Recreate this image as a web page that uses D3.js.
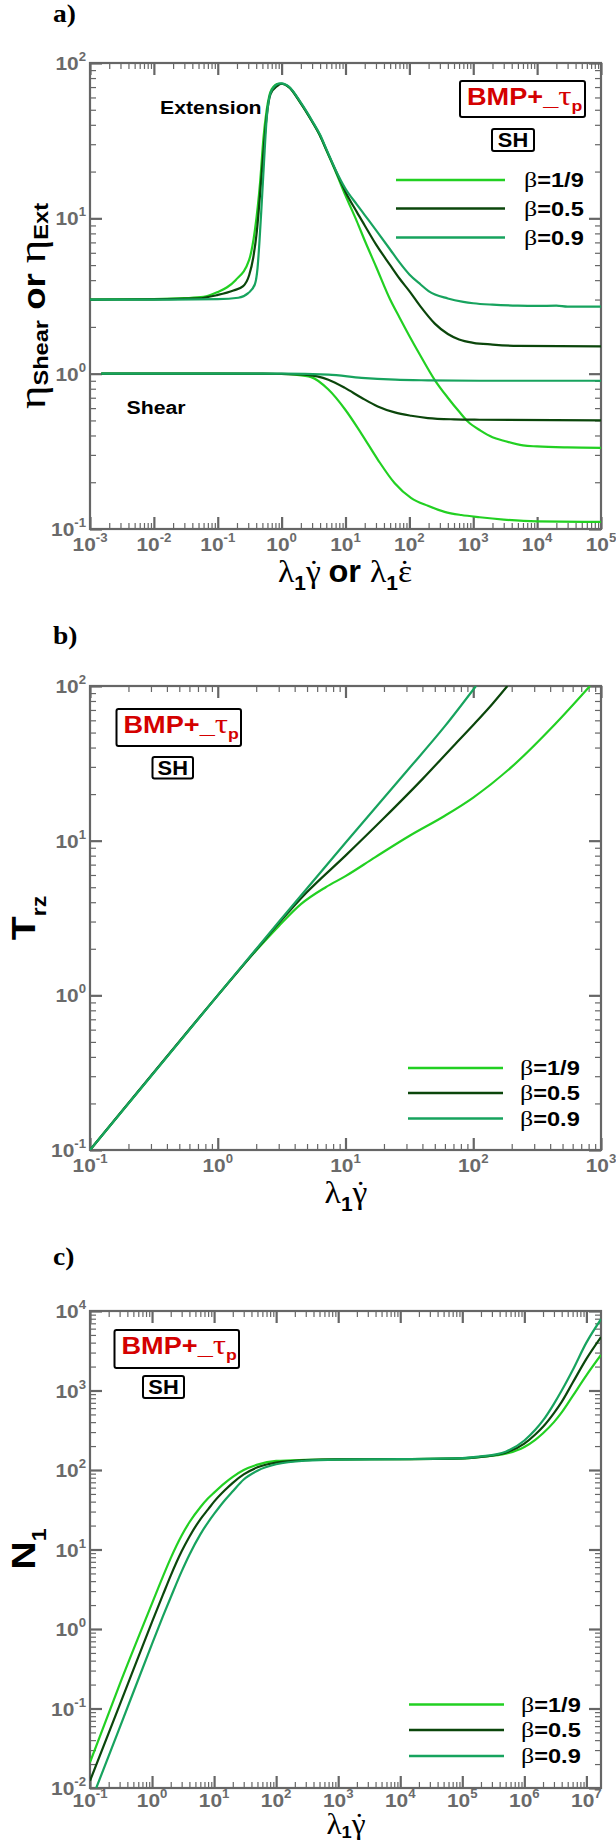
<!DOCTYPE html>
<html><head><meta charset="utf-8">
<script src="https://cdn.jsdelivr.net/npm/d3@7"></script>
<style>body{margin:0;background:#fff}svg{display:block}</style>
</head><body>
<svg id="chart" width="616" height="1842"></svg>
<script>
// ---------------- DATA ----------------
const betaLabels = ["1/9", "0.5", "0.9"];
const seriesColors = ["#22d022", "#0b460b", "#17a35e"];

// Panel a: extensional viscosity
const extB19 = [[0.001,3.0],[0.01,3.02],[0.03,3.06],[0.06,3.12],[0.1,3.35],[0.14,3.6],[0.19,4.0],[0.31,5.4],[0.38,8.3],[0.46,17],[0.52,33],[0.58,49],[0.7,68],[0.89,73.5],[1.0,73.5],[1.3,70],[2,55],[3,42],[4,34],[5,27.5],[7,20],[10,14],[15,9.6],[20,7.2],[30,4.9],[50,3.0],[70,2.3],[100,1.75],[150,1.3],[250,0.91],[400,0.7],[600,0.57],[830,0.49],[1300,0.43],[2000,0.39],[3000,0.37],[6000,0.345],[10000,0.34],[30000,0.335],[100000,0.333]];
const extB05 = [[0.001,3.0],[0.01,3.01],[0.05,3.05],[0.096,3.2],[0.176,3.43],[0.25,3.66],[0.31,4.3],[0.36,5.6],[0.41,8.3],[0.46,14.3],[0.52,27],[0.58,44.5],[0.67,63],[0.85,71],[1.0,73.5],[1.3,70],[2,55],[3,42],[4,34],[5,27.7],[7,20.3],[10,14.8],[15,11],[20,9.0],[30,6.8],[50,5.0],[70,4.1],[100,3.4],[150,2.7],[250,2.1],[400,1.8],[600,1.66],[1000,1.58],[2000,1.54],[5000,1.51],[100000,1.5]];
const extB09 = [[0.001,3.0],[0.01,3.0],[0.1,3.02],[0.21,3.08],[0.3,3.3],[0.38,3.75],[0.42,4.8],[0.45,7.1],[0.49,12.9],[0.53,23],[0.58,42.5],[0.66,63],[0.79,71.5],[0.94,74],[1.0,74],[1.3,70.5],[2,55.5],[3,42.5],[4,34.5],[5,28],[7,20.5],[10,15.5],[15,12.3],[20,10.5],[30,8.4],[50,6.3],[70,5.2],[100,4.35],[150,3.75],[200,3.4],[400,3.05],[700,2.9],[1000,2.84],[2000,2.78],[5000,2.74],[10000,2.73],[20000,2.74],[30000,2.7],[100000,2.7]];
// Panel a: shear viscosity
const shearB19 = [[0.0015,1],[0.1,1],[0.5,0.998],[1,0.995],[1.6,0.985],[2.9,0.95],[5.4,0.79],[9.8,0.59],[17.8,0.41],[32,0.28],[59,0.197],[107,0.158],[195,0.141],[356,0.129],[650,0.123],[1260,0.119],[3000,0.115],[10000,0.112],[100000,0.111]];
const shearB05 = [[0.0015,1],[0.5,1],[1,0.998],[2.3,0.985],[5.4,0.915],[9.8,0.81],[17.8,0.70],[32,0.615],[59,0.563],[107,0.536],[195,0.518],[500,0.508],[1260,0.505],[100000,0.5]];
const shearB09 = [[0.0015,1],[1,1],[5.4,0.985],[17.8,0.94],[60,0.915],[195,0.906],[1260,0.9],[100000,0.9]];
// Panel b: T_rz
const trzB19 = [[0.1,0.1],[0.5,0.5],[1,1],[2,1.95],[3,2.8],[4.5,3.9],[7,5.0],[10,5.9],[17,7.8],[32,10.8],[60,14.5],[100,19],[200,30],[440,57],[820,100]];
const trzB05 = [[0.1,0.1],[1,1],[2,1.97],[3,2.92],[5,4.65],[10,8.0],[20,14],[40,25],[70,41],[100,56],[140,76],[185,100]];
const trzB09 = [[0.1,0.1],[1,1],[3,2.98],[10,9.7],[30,28],[60,55],[105,100]];
// Panel c: N1
const n1B19 = [[0.1,0.021],[0.3,0.2],[1,2.1],[1.5,4.6],[2,7.8],[3,15],[4,22],[6,34],[8,44],[10,52],[15,69],[20,82],[30,100],[50,117],[100,130],[300,134],[1000,136],[10000,137],[100000,140],[200000,146],[500000,160],[1e6,195],[1.5e6,240],[2e6,290],[3e6,400],[4e6,530],[6e6,850],[1e7,1550],[1.72e7,2800]];
const n1B05 = [[0.1,0.0123],[0.3,0.11],[1,1.23],[1.5,2.7],[2,4.7],[3,9.5],[4,14.5],[6,24],[8,32],[10,40],[15,56],[20,69],[30,88],[50,108],[100,124],[300,133],[1000,136],[10000,137],[100000,140],[200000,146],[500000,165],[1e6,215],[1.5e6,280],[2e6,350],[3e6,520],[4e6,720],[6e6,1250],[1e7,2500],[1.72e7,4700]];
const n1B09 = [[0.126,0.01],[0.3,0.057],[1,0.65],[1.5,1.45],[2,2.5],[3,5.3],[4,8.6],[6,15.5],[8,22],[10,28],[15,42],[20,54],[30,76],[50,98],[100,118],[300,131],[1000,135],[10000,137],[100000,141],[200000,148],[500000,170],[1e6,235],[1.5e6,320],[2e6,420],[3e6,680],[4e6,1000],[6e6,1800],[1e7,4000],[1.72e7,7900]];

// axis domains
const xDomA = [1e-3, 1e5], yDomA = [0.1, 100];
const xDomB = [0.1, 1000], yDomB = [0.1, 100];
const xDomC = [0.1, 1.72e7], yDomC = [0.01, 10000];

// ---------------- DRAWING ----------------
const SANS = "'Liberation Sans', Arial, Helvetica, sans-serif";
const SERIF = "'Liberation Serif', 'Times New Roman', serif";
const GRAY = "#666";
const RED = "#d40000";
const svg = d3.select("#chart");
const defs = svg.append("defs");

function rich(x, y, sx, parts, anchor, rot) {
  const g = svg.append("g").attr("transform", `translate(${x},${y}) rotate(${rot||0}) scale(${sx},1)`);
  const t = g.append("text").attr("text-anchor", anchor || "start");
  parts.forEach(p => {
    const ts = t.append("tspan").text(p.t)
      .attr("font-family", p.f || SANS)
      .attr("font-size", p.s)
      .attr("font-weight", p.w || "bold")
      .attr("dy", p.dy || 0)
      .attr("fill", p.c || "#000");
    if (p.dx) ts.attr("dx", p.dx);
  });
  return t;
}

// lambda_1 gamma-dot style symbol parts
function lamParts(sym, size, sub, symW, sdy) {
  return [
    {t: "\u03bb", f: SERIF, s: size, w: "normal"}, {t: "1", s: sub, dy: sdy},
    {t: sym, f: SERIF, s: size, w: "normal", dy: -sdy},
    {t: "\u02d9", f: SERIF, s: size, w: "normal", dx: (-(symW / 2 + 0.167)) + "em"}];
}

function logTicks(dom) {
  const maj = [], min = [];
  const lo = Math.floor(Math.log10(dom[0])) - 1, hi = Math.ceil(Math.log10(dom[1]));
  for (let e = lo; e <= hi; e++) {
    for (let k = 1; k < 10; k++) {
      const v = k * Math.pow(10, e);
      if (v < dom[0] * 0.9999 || v > dom[1] * 1.0001) continue;
      (k === 1 ? maj : min).push(v);
    }
  }
  return [maj, min];
}

function tickLabel(parent, px, py, v, anchor) {
  const t = parent.append("text").attr("transform", `translate(${px},${py}) scale(1.1,1)`)
    .attr("text-anchor", anchor).attr("font-family", SANS).attr("font-weight", "bold").attr("fill", "#6a6a6a");
  t.append("tspan").attr("font-size", 19).attr("font-weight", "bold").text("10");
  t.append("tspan").attr("font-size", 12).attr("font-weight", "bold").attr("dy", -9)
    .text(String(Math.round(Math.log10(v))));
}

function drawPanel(o) {
  const x = d3.scaleLog().domain(o.xDom).range([o.x0, o.x1]);
  const y = d3.scaleLog().domain(o.yDom).range([o.y1, o.y0]);
  const [xmaj, xmin] = logTicks(o.xDom);
  const [ymaj, ymin] = logTicks(o.yDom);
  const axG = svg.append("g");
  function add(axis, tr, sw) {
    const a = axG.append("g").attr("transform", tr).call(axis);
    a.select(".domain").remove();
    a.selectAll("text").remove();
    a.selectAll("line").attr("stroke", GRAY).attr("stroke-width", sw);
  }
  [[xmaj, ymaj, 12, 2.2], [xmin, ymin, 6, 1.2]].forEach(([xv, yv, len, sw]) => {
    add(d3.axisBottom(x).tickValues(xv).tickSize(-len).tickSizeOuter(0), `translate(0,${o.y1})`, sw);
    add(d3.axisTop(x).tickValues(xv).tickSize(-len).tickSizeOuter(0), `translate(0,${o.y0})`, sw);
    add(d3.axisLeft(y).tickValues(yv).tickSize(-len).tickSizeOuter(0), `translate(${o.x0},0)`, sw);
    add(d3.axisRight(y).tickValues(yv).tickSize(-len).tickSizeOuter(0), `translate(${o.x1},0)`, sw);
  });
  // tick labels
  const lab = svg.append("g");
  xmaj.forEach(v => tickLabel(lab, x(v), o.y1 + (o.xlabOff || 22), v, "middle"));
  ymaj.forEach(v => tickLabel(lab, o.x0 - 4, y(v) + 7, v, "end"));
  // frame
  svg.append("rect").attr("x", o.x0).attr("y", o.y0).attr("width", o.x1 - o.x0).attr("height", o.y1 - o.y0)
    .attr("fill", "none").attr("stroke", GRAY).attr("stroke-width", 2.2);
  // curves
  const cid = "clip-" + o.id;
  defs.append("clipPath").attr("id", cid).append("rect")
    .attr("x", o.x0).attr("y", o.y0).attr("width", o.x1 - o.x0).attr("height", o.y1 - o.y0);
  const line = d3.line().x(d => x(d[0])).y(d => y(d[1])).curve(d3.curveMonotoneX);
  const cg = svg.append("g").attr("clip-path", `url(#${cid})`);
  o.series.forEach(s => {
    cg.append("path").attr("d", line(s.data)).attr("fill", "none")
      .attr("stroke", seriesColors[s.ci]).attr("stroke-width", 2.2).attr("stroke-linejoin", "round");
  });
  // legend
  betaLabels.forEach((b, i) => {
    const ly = o.leg.y[i];
    svg.append("line").attr("x1", o.leg.lx0).attr("x2", o.leg.lx1).attr("y1", ly).attr("y2", ly)
      .attr("stroke", seriesColors[i]).attr("stroke-width", 2.4);
    rich(o.leg.tx, ly + 7, 1.18, [{t: "\u03b2", f: SERIF, s: 22, w: "normal"}, {t: "=" + b, s: 20}]);
  });
  // BMP / SH boxes
  const bb = o.bmp;
  svg.append("rect").attr("x", bb.x).attr("y", bb.y).attr("width", bb.w).attr("height", bb.h)
    .attr("rx", 2).attr("fill", "#fff").attr("stroke", "#000").attr("stroke-width", 2);
  rich(bb.x + 7, bb.y + 24, 1.18, [
    {t: "BMP+", s: 23, c: RED}, {t: "_", s: 23, c: RED},
    {t: "\u03c4", f: SERIF, s: 28, w: "normal", c: RED}, {t: "p", s: 15, dy: 6, c: RED}]);
  const sh = o.sh;
  svg.append("rect").attr("x", sh.x).attr("y", sh.y).attr("width", sh.w).attr("height", sh.h)
    .attr("rx", 2).attr("fill", "#fff").attr("stroke", "#000").attr("stroke-width", 2);
  rich(sh.x + sh.w / 2, sh.y + 18, 1.12, [{t: "SH", s: 19.5}], "middle");
}

// Panel a
drawPanel({
  id: "a", x0: 90, x1: 601, y0: 63, y1: 529, xDom: xDomA, yDom: yDomA,
  series: [
    {data: extB19, ci: 0}, {data: shearB19, ci: 0},
    {data: extB05, ci: 1}, {data: shearB05, ci: 1},
    {data: extB09, ci: 2}, {data: shearB09, ci: 2}],
  leg: {lx0: 396, lx1: 505, tx: 524, y: [180, 208.5, 237.5]},
  bmp: {x: 460, y: 81, w: 125, h: 36},
  sh: {x: 492, y: 129, w: 42, h: 22}
});
rich(160, 113.5, 1.12, [{t: "Extension", s: 19}]);
rich(126.5, 413.5, 1.12, [{t: "Shear", s: 19}]);
rich(53, 22, 1.1, [{t: "a)", f: SERIF, s: 25}]);
rich(45, 306, 1.18, [
  {t: "\u03b7", f: SERIF, s: 38, w: "normal"}, {t: "Shear", s: 20, dy: 3},
  {t: " or ", s: 31, dy: -3}, {t: "\u03b7", f: SERIF, s: 38, w: "normal"}, {t: "Ext", s: 20, dy: 3}], "middle", -90);
rich(345, 582, 1.05, [
  ...lamParts("\u03b3", 32, 20, 0.41, 8), {t: " or ", s: 31},
  ...lamParts("\u03b5", 32, 20, 0.44, 8)], "middle");

// Panel b
drawPanel({
  id: "b", x0: 90, x1: 601, y0: 686, y1: 1150, xDom: xDomB, yDom: yDomB,
  series: [{data: trzB19, ci: 0}, {data: trzB05, ci: 1}, {data: trzB09, ci: 2}],
  leg: {lx0: 408, lx1: 503, tx: 520, y: [1068, 1093, 1118.5]},
  bmp: {x: 116.5, y: 709, w: 124.5, h: 37},
  sh: {x: 152.5, y: 757, w: 40.5, h: 21.5}
});
rich(53, 644, 1.1, [{t: "b)", f: SERIF, s: 25}]);
rich(35, 918, 1.15, [{t: "T", s: 34}, {t: "rz", s: 20, dy: 11}], "middle", -90);
rich(346, 1203, 1.05, lamParts("\u03b3", 32, 20, 0.41, 8), "middle");

// Panel c
drawPanel({
  id: "c", x0: 90, x1: 601, y0: 1311, y1: 1788, xDom: xDomC, yDom: yDomC, xlabOff: 19,
  series: [{data: n1B19, ci: 0}, {data: n1B05, ci: 1}, {data: n1B09, ci: 2}],
  leg: {lx0: 409, lx1: 504, tx: 521, y: [1704.5, 1730, 1756]},
  bmp: {x: 114.5, y: 1330, w: 124.5, h: 38},
  sh: {x: 143, y: 1376, w: 41, h: 22}
});
rich(53, 1265, 1.1, [{t: "c)", f: SERIF, s: 25}]);
rich(35, 1549, 1.15, [{t: "N", s: 34}, {t: "1", s: 20, dy: 11}], "middle", -90);
rich(346, 1834, 1.08, lamParts("\u03b3", 29, 17, 0.41, 4), "middle");
</script>
</body></html>
